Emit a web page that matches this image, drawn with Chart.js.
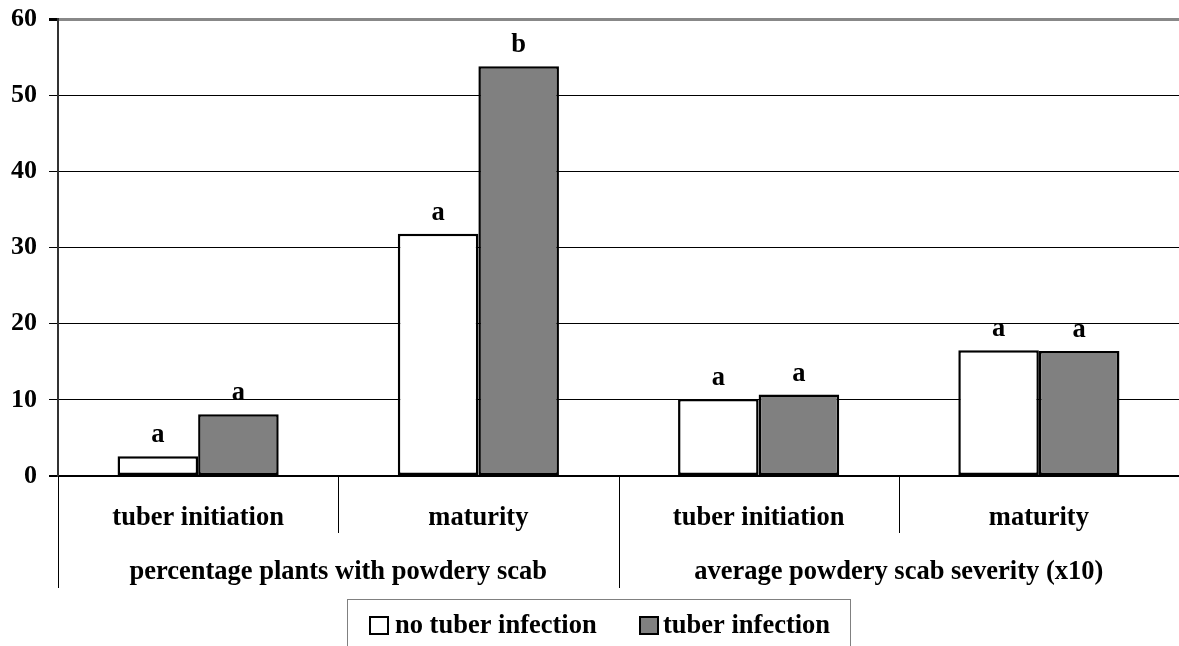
<!DOCTYPE html>
<html>
<head>
<meta charset="utf-8">
<script src="https://cdn.jsdelivr.net/npm/chart.js@4"></script>
<style>
  html, body { margin: 0; padding: 0; background: #fff; }
  #wrap { width: 1179px; height: 646px; position: relative; }
</style>
</head>
<body>
<div id="wrap"><canvas id="myChart" width="1179" height="646"></canvas></div>
<script>
// chart data
const categories = ['tuber initiation', 'maturity', 'tuber initiation', 'maturity'];
const groups = ['percentage plants with powdery scab', 'average powdery scab severity (x10)'];
const noInfection = [2.6, 31.8, 10.1, 16.5];
const withInfection = [8.1, 53.8, 10.7, 16.4];
const noInfectionLetters = ['a', 'a', 'a', 'a'];
const withInfectionLetters = ['a', 'b', 'a', 'a'];
const seriesNames = ['no tuber infection', 'tuber infection'];
const yTicks = [0, 10, 20, 30, 40, 50, 60];

const FONT = '"Liberation Serif", "Times New Roman", serif';

// letters above bars, category labels, separators and legend box
const extras = {
    id: 'extras',
    afterDatasetsDraw(chart) {
        const ctx = chart.ctx;
        const area = chart.chartArea;
        const x = chart.scales.x;
        const letters = [noInfectionLetters, withInfectionLetters];

        ctx.save();
        ctx.fillStyle = '#000';
        ctx.font = 'bold 26.5px ' + FONT;
        ctx.textAlign = 'center';
        ctx.textBaseline = 'alphabetic';
        chart.data.datasets.forEach((ds, i) => {
            chart.getDatasetMeta(i).data.forEach((bar, j) => {
                ctx.fillText(letters[i][j], bar.x, bar.y - 14);
            });
        });

        // category separators
        const step = (area.right - area.left) / categories.length;
        ctx.strokeStyle = '#000';
        ctx.lineWidth = 1;
        for (let k = 0; k <= categories.length; k++) {
            const px = Math.round(area.left + k * step) + 0.5;
            const low = (k % 2 === 0) ? area.bottom + 112 : area.bottom + 57;
            ctx.beginPath();
            ctx.moveTo(px, area.bottom);
            ctx.lineTo(px, low);
            ctx.stroke();
        }

        categories.forEach((c, k) => {
            ctx.fillText(c, x.getPixelForValue(k), area.bottom + 49);
        });
        groups.forEach((g, k) => {
            ctx.fillText(g, area.left + (k * 2 + 1) * step, area.bottom + 103);
        });

        // legend box
        ctx.strokeStyle = '#808080';
        ctx.strokeRect(347.5, 599.5, 503, 60);
        ctx.textAlign = 'left';
        ctx.lineWidth = 2;
        ctx.fillStyle = '#fff';
        ctx.fillRect(370, 617, 18, 17);
        ctx.strokeStyle = '#000';
        ctx.strokeRect(370, 617, 18, 17);
        ctx.fillStyle = '#808080';
        ctx.fillRect(640, 617, 18, 17);
        ctx.strokeRect(640, 617, 18, 17);
        ctx.fillStyle = '#000';
        ctx.fillText(seriesNames[0], 395, 633);
        ctx.fillText(seriesNames[1], 663, 633);
        ctx.restore();
    }
};

const ctx = document.getElementById('myChart').getContext('2d');
const myChart = new Chart(ctx, {
    type: 'bar',
    data: {
        labels: categories,
        datasets: [
            {
                label: seriesNames[0],
                data: noInfection,
                backgroundColor: '#ffffff',
                borderColor: '#000000',
                borderWidth: 2.5,
                borderSkipped: false,
                categoryPercentage: 0.575,
                barPercentage: 1.0
            },
            {
                label: seriesNames[1],
                data: withInfection,
                backgroundColor: '#808080',
                borderColor: '#000000',
                borderWidth: 2.5,
                borderSkipped: false,
                categoryPercentage: 0.575,
                barPercentage: 1.0
            }
        ]
    },
    options: {
        responsive: false,
        animation: false,
        layout: {
            padding: { top: 19, right: 0, bottom: 170, left: 0 }
        },
        plugins: {
            legend: { display: false },
            tooltip: { enabled: false }
        },
        scales: {
            x: {
                display: false
            },
            y: {
                min: 0,
                max: 60,
                afterFit: scale => {
                    scale.width = 58;
                    scale.paddingTop = 0;
                    scale.paddingBottom = 0;
                },
                afterBuildTicks: scale => { scale.ticks = yTicks.map(v => ({ value: v })); },
                border: { color: '#333', width: 2 },
                grid: {
                    color: c => c.tick.value === 60 ? '#888' : '#000',
                    lineWidth: c => c.tick.value === 60 ? 3 : (c.tick.value === 0 ? 2 : 1),
                    tickLength: 9,
                    tickColor: '#000'
                },
                ticks: {
                    color: '#000',
                    padding: 12,
                    font: { family: FONT, size: 26, weight: 'bold' }
                }
            }
        }
    },
    plugins: [extras]
});
</script>
</body>
</html>
